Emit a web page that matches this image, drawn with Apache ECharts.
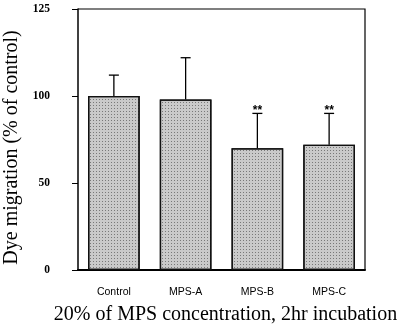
<!DOCTYPE html>
<html>
<head>
<meta charset="utf-8">
<script src="https://cdn.jsdelivr.net/npm/echarts@6/dist/echarts.min.js"></script>
<style>
  html, body { margin: 0; padding: 0; background: #fff; }
  #main { width: 397px; height: 324px; }
</style>
</head>
<body>
<div id="main"></div>
<script>
var categories = ['Control', 'MPS-A', 'MPS-B', 'MPS-C'];
var means = [100, 98, 70, 72];
var errTops = [112, 122, 90, 90];
var signif = ['', '', '**', '**'];
// the printed scale reads 0, 50, 100 and then "125" at the top tick
var tickValues = [0, 50, 100, 150];
var tickLabels = ['0', '50', '100', '125'];

var myChart = echarts.init(document.getElementById('main'));

var option = {
    animation: false,
    grid: { left: 78, right: 32, top: 9, bottom: 54, outerBoundsMode: 'none' },
    xAxis: {
        type: 'category',
        data: categories,
        name: '20% of MPS concentration, 2hr incubation',
        nameLocation: 'middle',
        nameGap: 35,
        nameTextStyle: { fontFamily: 'Liberation Serif', fontSize: 20, color: '#000', padding: [0, 0, 0, 8] },
        axisLine: { lineStyle: { color: '#000', width: 2 } },
        axisTick: { alignWithLabel: true, length: 3, lineStyle: { color: '#000' } },
        axisLabel: { fontFamily: 'Liberation Sans', fontSize: 10.5, color: '#000', margin: 17 }
    },
    yAxis: {
        type: 'value',
        min: 0,
        max: 150,
        interval: 50,
        name: 'Dye migration (% of control)',
        nameLocation: 'middle',
        nameGap: 55,
        nameTextStyle: { fontFamily: 'Liberation Serif', fontSize: 20, color: '#000', padding: [0, 0, 0, -16] },
        axisLine: { show: true, lineStyle: { color: '#000', width: 1.5 } },
        axisTick: { show: true, length: 6, lineStyle: { color: '#000' } },
        splitLine: { show: false },
        axisLabel: {
            fontFamily: 'Liberation Serif', fontSize: 11.5, fontWeight: 'bold', color: '#000', margin: 28,
            formatter: function(v) { return tickLabels[tickValues.indexOf(v)]; }
        }
    },
    series: [{
        type: 'bar',
        data: means,
        barWidth: '72%',
        itemStyle: {
            color: '#cacaca',
            borderColor: '#111',
            borderWidth: 1.3,
            decal: {
                symbol: 'rect', symbolSize: 1, color: 'rgba(0,0,0,0.4)',
                dashArrayX: [1, 2], dashArrayY: [1, 2], rotation: 0
            }
        },
        z: 2
    }, {
        type: 'custom',
        data: categories.map(function(c, i) { return [i, means[i], errTops[i]]; }),
        renderItem: function(params, api) {
            var i = api.value(0);
            var base = api.coord([i, api.value(1)]);
            var top = api.coord([i, api.value(2)]);
            var children = [
                { type: 'line', shape: { x1: base[0], y1: base[1], x2: top[0], y2: top[1] }, style: { stroke: '#000', lineWidth: 1.3 } },
                { type: 'line', shape: { x1: top[0] - 5, y1: top[1], x2: top[0] + 5, y2: top[1] }, style: { stroke: '#000', lineWidth: 1.3 } }
            ];
            if (signif[i]) {
                children.push({ type: 'text', style: { x: top[0], y: top[1] + 3, text: signif[i], textAlign: 'center', textVerticalAlign: 'bottom', font: 'bold 12px Liberation Sans', fill: '#000' } });
            }
            return { type: 'group', children: children };
        },
        z: 3
    }],
    graphic: [{
        type: 'polyline',
        shape: { points: [[78, 9], [365, 9], [365, 270]] },
        style: { stroke: '#000', lineWidth: 1.2, fill: null }
    }]
};
myChart.setOption(option);
</script>
</body>
</html>
